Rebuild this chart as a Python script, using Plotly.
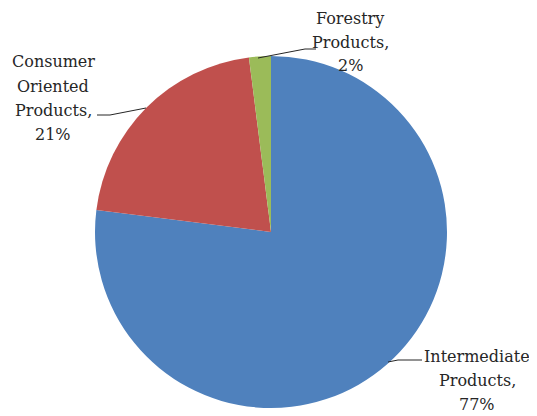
import plotly.graph_objects as go

categories = ["Intermediate Products", "Consumer Oriented Products", "Forestry Products"]
values = [77, 21, 2]
label_lines = [["Intermediate", "Products,"], ["Consumer", "Oriented", "Products,"], ["Forestry", "Products,"]]
colors = ["#4F81BD", "#C0504D", "#9BBB59"]

OFF = 8  # page body margin
W, H = 537 - OFF, 416 - OFF

def px(x):
    return (x - OFF) / W

def py(y):
    return 1 - (y - OFF) / H

fig = go.Figure(go.Pie(
    labels=categories,
    values=values,
    sort=False,
    direction="clockwise",
    rotation=0,
    marker=dict(colors=colors, line=dict(width=0)),
    textinfo="none",
    hoverinfo="label+percent",
    domain=dict(x=[px(95), px(447)], y=[py(408), py(56)]),
    showlegend=False,
))

# label first-line centres (pixels), line step, leader lines (pixels)
label_pos = [(477, 356), (53, 62), (350, 18)]
STEP = 24
leaders = [
    [(388, 362), (398, 360), (422, 360)],
    [(146, 108), (110, 115), (97, 115)],
    [(258, 58), (305, 49), (316, 49)],
]

font = dict(family="'DejaVu Serif', serif", size=16, color="#262626")
for lines, v, (cx, cy) in zip(label_lines, values, label_pos):
    for i, t in enumerate(lines + [f"{v}%"]):
        fig.add_annotation(
            text=t,
            x=px(cx), y=py(cy + i * STEP), xref="paper", yref="paper",
            showarrow=False, align="center", xanchor="center", yanchor="middle",
            font=font,
        )

for pts in leaders:
    path = "M " + " L ".join(f"{px(x)},{py(y)}" for x, y in pts)
    fig.add_shape(type="path", path=path, xref="paper", yref="paper",
                  line=dict(color="#262626", width=1))

fig.update_layout(
    width=W, height=H,
    margin=dict(l=0, r=0, t=0, b=0),
    font=font,
    paper_bgcolor="white", plot_bgcolor="white",
)

fig.write_html("out.html")
